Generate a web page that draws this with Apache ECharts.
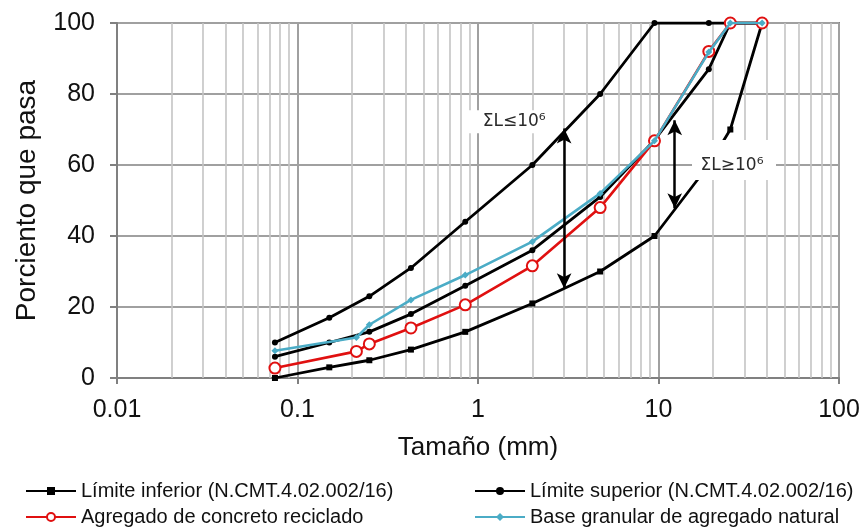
<!DOCTYPE html>
<html>
<head>
<meta charset="utf-8">
<script src="https://cdn.jsdelivr.net/npm/echarts@6/dist/echarts.min.js"></script>
<style>html,body{margin:0;padding:0;background:#fff}#c{width:865px;height:529px}</style>
</head>
<body>
<div id="c"></div>
<script>
// ---- data ----
const sizes = [0.075, 0.15, 0.25, 0.425, 0.85, 2, 4.75, 9.5, 19, 25, 37.5];
const lowerLimit = [0, 3, 5, 8, 13, 21, 30, 40, 60, 70, 100];
const upperLimitA = [10, 17, 23, 31, 44, 60, 80, 100, 100, 100, 100];
const upperLimitB = [6, 10, 13, 18, 26, 36, 51, 67, 87, 100, 100];
const sampleSizes = [0.075, 0.212, 0.25, 0.425, 0.85, 2, 4.75, 9.5, 19, 25, 37.5];
const recycled = [2.8, 7.5, 9.6, 14.1, 20.6, 31.6, 48, 66.8, 92, 100, 100];
const natural = [7.7, 11.4, 15, 22, 29, 38.4, 52, 66.8, 91.8, 100, 100];
const xDecades = [0.01, 0.1, 1, 10, 100];
const yTicks = [0, 20, 40, 60, 80, 100];
const arrowA = {x: 3, from: 25.3, to: 70.3};
const arrowB = {x: 12.3, from: 47.8, to: 72.6};
const labelTexts = ['ΣL≤10⁶', 'ΣL≥10⁶'];
const labelAnchors = [[1.47, 72.2], [26.2, 61.4]];

const nameLow = 'Límite inferior (N.CMT.4.02.002/16)';
const nameUp = 'Límite superior (N.CMT.4.02.002/16)';
const nameRec = 'Agregado de concreto reciclado';
const nameNat = 'Base granular de agregado natural';

const zip = (xs, ys) => xs.map((x, i) => [x, ys[i]]);
const minorX = [];
xDecades.slice(0, -1).forEach(d => { for (let k = 2; k <= 9; k++) minorX.push(+(d * k).toPrecision(3)); });

const FF = 'Liberation Sans, Arial, DejaVu Sans, sans-serif';
const chart = echarts.init(document.getElementById('c'), null, {renderer: 'canvas'});
const blackLine = (name, vals, sym) => ({
  type: 'line', name, data: zip(sizes, vals), z: 3,
  symbol: sym, symbolSize: 6, showAllSymbol: true,
  itemStyle: {color: '#000'}, lineStyle: {color: '#000', width: 2.8}
});
const legendBase = {orient: 'vertical', top: 481, itemGap: 6, padding: 0,
  itemWidth: 50, itemHeight: 10, textStyle: {fontSize: 20, color: '#111', fontFamily: FF}};
chart.setOption({
  animation: false,
  textStyle: {fontFamily: FF},
  grid: {left: 117, right: 26, top: 23, bottom: 151, show: true, borderColor: '#808080', borderWidth: 2},
  xAxis: {
    type: 'log', logBase: 10, min: xDecades[0], max: xDecades[xDecades.length - 1],
    axisLine: {show: true, lineStyle: {color: '#808080', width: 2}},
    axisTick: {show: true, length: 6, lineStyle: {color: '#808080', width: 2}},
    axisLabel: {fontSize: 25, color: '#111', margin: 20, fontFamily: FF,
      formatter: v => String(+(+v).toPrecision(3))},
    splitLine: {show: true, lineStyle: {color: '#a0a0a0', width: 2}},
    name: 'Tamaño (mm)', nameLocation: 'middle', nameGap: 57,
    nameTextStyle: {fontSize: 26, color: '#111', fontFamily: FF}
  },
  yAxis: {
    type: 'value', min: yTicks[0], max: yTicks[yTicks.length - 1], interval: 20,
    axisLine: {show: true, lineStyle: {color: '#808080', width: 2}},
    axisTick: {show: true, length: 7, lineStyle: {color: '#808080', width: 2}},
    axisLabel: {fontSize: 25, color: '#111', margin: 22, fontFamily: FF},
    splitLine: {show: true, lineStyle: {color: '#a0a0a0', width: 2}},
    name: 'Porciento que pasa', nameLocation: 'middle', nameGap: 76,
    nameTextStyle: {fontSize: 28, color: '#111', fontFamily: FF}
  },
  legend: [
    Object.assign({data: [nameLow, nameRec], left: 25}, legendBase),
    Object.assign({data: [nameUp, nameNat], left: 474}, legendBase)
  ],
  series: [
    {type: 'line', data: [], z: 1, silent: true,
     markLine: {z: 1, silent: true, symbol: 'none', animation: false, label: {show: false},
       lineStyle: {color: '#c4c4c4', width: 1.6, type: 'solid'},
       emphasis: {disabled: true},
       data: minorX.map(v => ({xAxis: v}))}},
    blackLine(nameLow, lowerLimit, 'rect'),
    blackLine(nameUp, upperLimitA, 'circle'),
    blackLine(nameUp, upperLimitB, 'circle'),
    {type: 'line', name: nameRec, data: zip(sampleSizes, recycled), z: 4,
     symbol: 'emptyCircle', symbolSize: 11, showAllSymbol: true,
     itemStyle: {color: '#e01010', borderWidth: 1.5}, lineStyle: {color: '#e01010', width: 2.6}},
    {type: 'line', name: nameNat, data: zip(sampleSizes, natural), z: 5,
     symbol: 'diamond', symbolSize: 7, showAllSymbol: true,
     itemStyle: {color: '#4bacc6'}, lineStyle: {color: '#4bacc6', width: 2.6}},
    {type: 'line', data: [], z: 10, silent: true,
     markLine: {z: 20, silent: true, symbol: ['arrow', 'arrow'], symbolSize: [11, 15], animation: false,
       label: {show: false}, emphasis: {disabled: true},
       lineStyle: {color: '#000', width: 2.5, type: 'solid'},
       data: [
         [{coord: [arrowA.x, arrowA.from]}, {coord: [arrowA.x, arrowA.to]}],
         [{coord: [arrowB.x, arrowB.from]}, {coord: [arrowB.x, arrowB.to]}]
       ]},
     markPoint: {z: 21, silent: true, animation: false,
       data: [
         {coord: labelAnchors[0], symbol: 'rect', symbolSize: [80, 23], itemStyle: {color: '#fff'},
          label: {show: true, formatter: labelTexts[0], color: '#2a2a2a', fontSize: 17, offset: [6, 0], fontFamily: 'DejaVu Sans, sans-serif'}},
         {coord: labelAnchors[1], symbol: 'rect', symbolSize: [84, 40], itemStyle: {color: '#fff'},
          label: {show: true, formatter: labelTexts[1], color: '#2a2a2a', fontSize: 17, offset: [-2, 6], fontFamily: 'DejaVu Sans, sans-serif'}}
       ]}}
  ]
});
</script>
</body>
</html>
